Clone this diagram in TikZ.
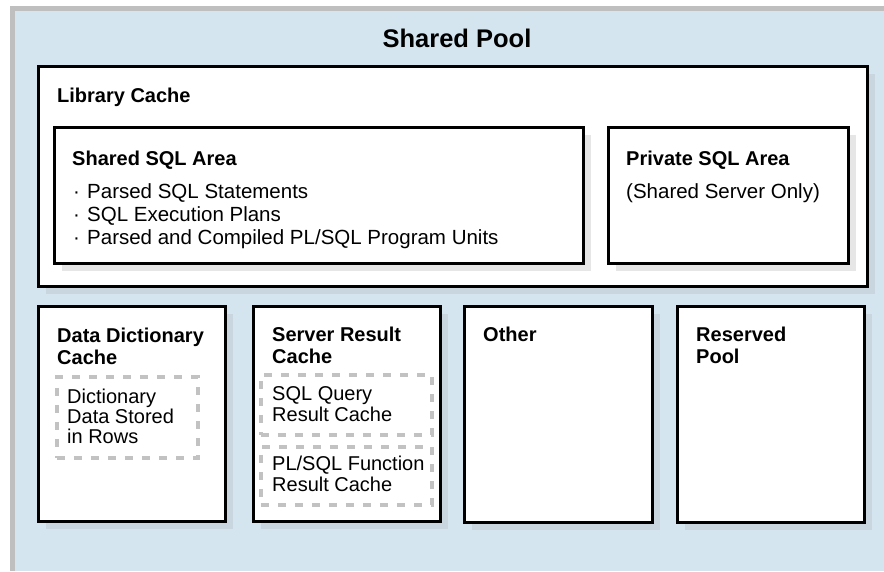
\documentclass[tikz,border=0pt]{standalone}
\usepackage{fontspec}
\setmainfont{Liberation Sans}
\usetikzlibrary{shadows}
\definecolor{poolbg}{HTML}{D4E5EF}
\definecolor{poolframe}{HTML}{BFBFBF}
\definecolor{shadowblue}{HTML}{C9D6E0}
\definecolor{shadowgray}{HTML}{E6E6E6}
\definecolor{dashgray}{HTML}{C2C2C2}
\begin{document}
\begin{tikzpicture}[x=1pt,y=-1pt,
  box/.style={draw=black, line width=2.5pt, fill=white, rectangle, anchor=north west, inner sep=0pt},
  shb/.style={drop shadow={shadow xshift=8pt, shadow yshift=-8pt, fill=shadowblue, opacity=1}},
  shg/.style={drop shadow={shadow xshift=8pt, shadow yshift=-8pt, fill=shadowgray, opacity=1}},
  dbox/.style={draw=dashgray, line width=3.5pt, dash pattern=on 8pt off 9pt, rectangle, anchor=north west, inner sep=0pt},
  lbl/.style={anchor=base west, inner sep=0pt, font=\fontsize{20}{22}\selectfont\bfseries},
  txt/.style={anchor=base west, inner sep=0pt, font=\fontsize{20.5}{23}\selectfont},
  itxt/.style={anchor=base west, inner sep=0pt, font=\fontsize{20}{22}\selectfont},
  ttl/.style={anchor=base, inner sep=0pt, font=\fontsize{25.5}{28}\selectfont\bfseries}
]
\useasboundingbox (0,0) rectangle (884,571);
% background frame
\fill[poolframe] (10,6) rectangle (884,571);
\fill[poolbg] (15,11) rectangle (884,571);
\node[ttl] (title) at (457,47) {Shared Pool};

% Library cache
\node[box, shb, minimum width=829pt, minimum height=220pt] (lib) at (37,65) {};
\node[lbl] (libl) at (57,102) {Library Cache};

\node[box, shg, minimum width=529pt, minimum height=136pt] (ssql) at (53,126) {};
\node[lbl] (ssqll) at (72,165) {Shared SQL Area};
\node[txt] (b1) at (73,198) {·};
\node[txt] (t1) at (87,198) {Parsed SQL Statements};
\node[txt] (b2) at (73,221) {·};
\node[txt] (t2) at (87,221) {SQL Execution Plans};
\node[txt] (b3) at (73,244) {·};
\node[txt] (t3) at (87,244) {Parsed and Compiled PL/SQL Program Units};

\node[box, shg, minimum width=240pt, minimum height=136pt] (psql) at (607,126) {};
\node[lbl] (psqll) at (626,165) {Private SQL Area};
\node[txt] (psqlt) at (626,198) {(Shared Server Only)};

% bottom row
\node[box, shb, minimum width=187pt, minimum height=215pt] (dd) at (37,305) {};
\node[lbl] (ddl1) at (57,342) {Data Dictionary};
\node[lbl] (ddl2) at (57,364) {Cache};
\node[dbox, minimum width=141pt, minimum height=81pt] (ddd) at (55,375) {};
\node[itxt] (ddt1) at (67,403) {Dictionary};
\node[itxt] (ddt2) at (67,423) {Data Stored};
\node[itxt] (ddt3) at (67,443) {in Rows};

\node[box, shb, minimum width=187pt, minimum height=215pt] (src) at (252,305) {};
\node[lbl] (srcl1) at (272,341) {Server Result};
\node[lbl] (srcl2) at (272,363) {Cache};
\node[dbox, minimum width=171pt, minimum height=60pt] (sq1) at (259,373) {};
\node[itxt] (sq1t1) at (272,400) {SQL Query};
\node[itxt] (sq1t2) at (272,421) {Result Cache};
\node[dbox, minimum width=171pt, minimum height=58pt] (sq2) at (259,445) {};
\node[itxt] (sq2t1) at (272,470) {PL/SQL Function};
\node[itxt] (sq2t2) at (272,491) {Result Cache};

\node[box, shb, minimum width=188pt, minimum height=216pt] (oth) at (463,305) {};
\node[lbl] (othl) at (483,341) {Other};

\node[box, shb, minimum width=187pt, minimum height=216pt] (res) at (676,305) {};
\node[lbl] (resl1) at (696,341) {Reserved};
\node[lbl] (resl2) at (696,363) {Pool};
\end{tikzpicture}
\end{document}
